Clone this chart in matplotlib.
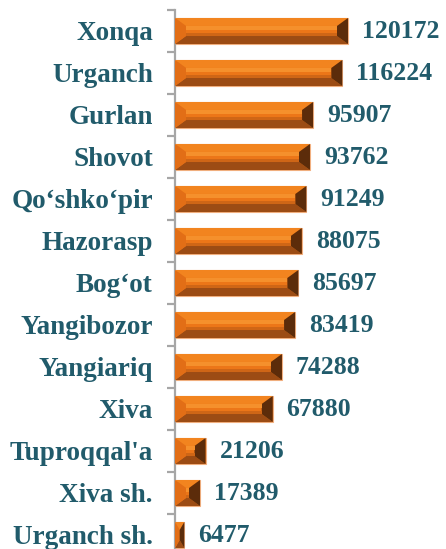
import numpy as np
import matplotlib

matplotlib.use("Agg")
import matplotlib.pyplot as plt
from matplotlib.patches import Polygon

# data
districts = ["Xonqa", "Urganch", "Gurlan", "Shovot", "Qo\u2018shko\u2018pir", "Hazorasp",
             "Bog\u2018ot", "Yangibozor", "Yangiariq", "Xiva", "Tuproqqal'a",
             "Xiva sh.", "Urganch sh."]
values = [120172, 116224, 95907, 93762, 91249, 88075, 85697, 83419, 74288,
          67880, 21206, 17389, 6477]

W, H, DPI = 446, 549, 100
text_col = "#215B6B"
plt.rcParams["font.family"] = ["Liberation Serif", "DejaVu Serif"]

fig = plt.figure(figsize=(W / DPI, H / DPI), dpi=DPI)

# axes geometry in pixels
ax_left, ax_top, ax_w, ax_h = 175, 10, 271, 546
ax = fig.add_axes([ax_left / W, 1 - (ax_top + ax_h) / H, ax_w / W, ax_h / H])

n = len(values)
xmax = 120172 * ax_w / 173.0
ax.set_xlim(0, xmax)
ax.set_ylim(n - 0.5, -0.5)

ypos = np.arange(n)
bar_h = 0.62
bars = ax.barh(ypos, values, height=bar_h, color="#EC7618",
               edgecolor="#F2B080", linewidth=0.8, zorder=2)

# bevel size in data units
px_x = xmax / ax_w
px_y = n / ax_h

for b in bars:
    x0, y0 = b.get_x(), b.get_y()
    w, h = b.get_width(), b.get_height()
    x1, y1 = x0 + w, y0 + h
    bx = min(11 * px_x, w / 2)
    by = min(8 * px_y, h / 2)
    inner = h - 2 * by
    # y axis is inverted: y0 is the visual top
    top = [(x0, y0), (x1, y0), (x1 - bx, y0 + by), (x0 + bx, y0 + by)]
    bottom = [(x0, y1), (x1, y1), (x1 - bx, y1 - by), (x0 + bx, y1 - by)]
    left = [(x0, y0), (x0 + bx, y0 + by), (x0 + bx, y1 - by), (x0, y1)]
    right = [(x1, y0), (x1 - bx, y0 + by), (x1 - bx, y1 - by), (x1, y1)]
    stripe_hi = [(x0 + bx, y0 + by), (x1 - bx, y0 + by),
                 (x1 - bx, y0 + by + inner * 0.45), (x0 + bx, y0 + by + inner * 0.45)]
    stripe_lo = [(x0 + bx, y1 - by - inner * 0.3), (x1 - bx, y1 - by - inner * 0.3),
                 (x1 - bx, y1 - by), (x0 + bx, y1 - by)]
    for pts, c in [(top, "#F2841F"), (bottom, "#9C4C14"),
                   (left, "#E26E16"), (right, "#5C2C0A"),
                   (stripe_hi, "#F5902C"), (stripe_lo, "#CF6616")]:
        ax.add_patch(Polygon(pts, closed=True, facecolor=c, edgecolor="none", zorder=3))

for yv, v in zip(ypos, values):
    ax.annotate(str(v), xy=(v, yv), xytext=(10, 0), textcoords="offset points",
                va="center", ha="left", fontsize=18.5, fontweight="bold", color=text_col)

# ticks at category boundaries, labels at centres
ax.set_yticks(np.arange(n + 1) - 0.5)
ax.set_yticklabels([])
ax.tick_params(axis="y", which="major", length=5.8, width=1.6, color="#A6A6A6", direction="out")
ax.set_yticks(ypos, minor=True)
ax.set_yticklabels(districts, minor=True, fontsize=19.5, fontweight="bold", color=text_col)
ax.tick_params(axis="y", which="minor", length=0, pad=16)

ax.set_xticks([])
for s in ["top", "right", "bottom"]:
    ax.spines[s].set_visible(False)
ax.spines["left"].set_color("#A6A6A6")
ax.spines["left"].set_linewidth(1.6)

fig.savefig("out.png", dpi=DPI)
